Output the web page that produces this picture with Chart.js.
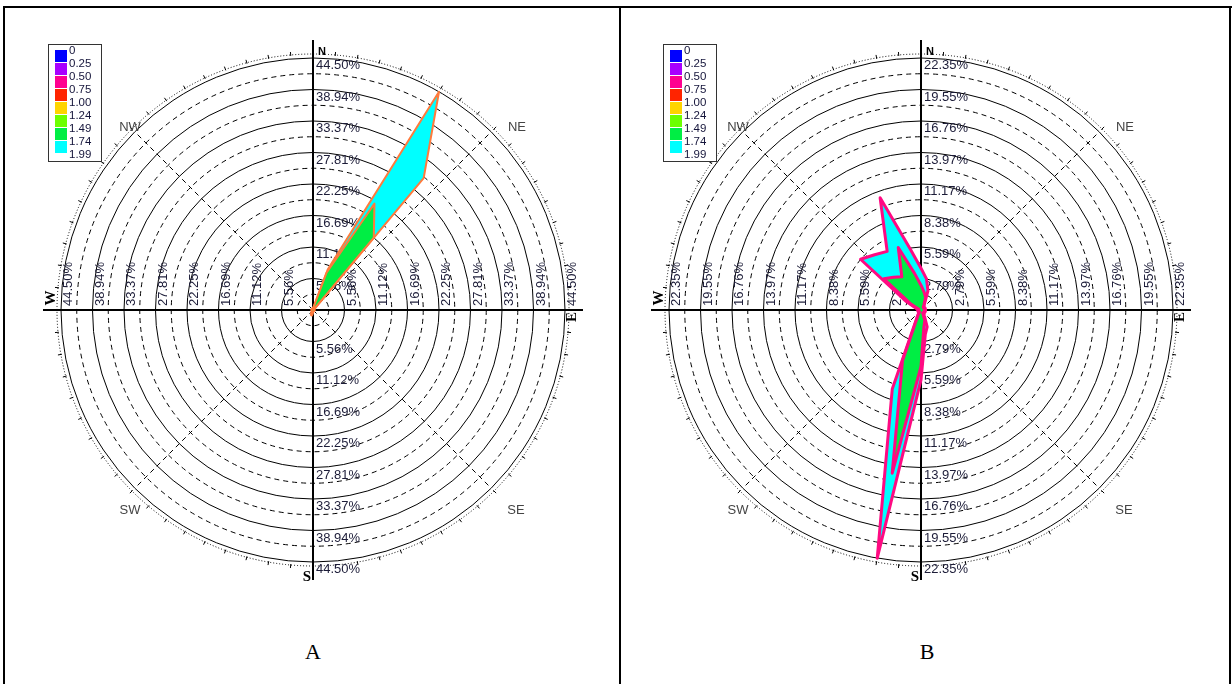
<!DOCTYPE html>
<html>
<head>
<meta charset="utf-8">
<script src="https://cdn.jsdelivr.net/npm/chart.js@4/dist/chart.umd.min.js"></script>
<style>
  body { margin: 0; background: #fff; width: 1232px; height: 684px; position: relative; overflow: hidden; font-family: "Liberation Serif", serif; }
  .frame { position: absolute; border-color: #000; border-style: solid; border-width: 0; }
  canvas { position: absolute; }
  .cap { position: absolute; font: 22px "Liberation Serif", serif; transform: translate(-50%, -50%); }
</style>
</head>
<body>
<div class="frame" style="left:3px;top:6px;width:1229px;height:0;border-top-width:2px"></div>
<div class="frame" style="left:3px;top:6px;width:0;height:678px;border-left-width:2px"></div>
<div class="frame" style="left:619px;top:6px;width:0;height:678px;border-left-width:2px"></div>
<div class="frame" style="left:1229px;top:6px;width:0;height:678px;border-left-width:2px"></div>
<canvas id="roseA" width="600" height="600" style="left:13px;top:10px"></canvas>
<canvas id="roseB" width="600" height="600" style="left:621px;top:10px"></canvas>
<div class="cap" style="left:313px;top:652px">A</div>
<div class="cap" style="left:927px;top:652px">B</div>
<script>
// wind directions, 10 degree sectors clockwise from north
const directions = ['0°','10°','20°','30°','40°','50°','60°','70°','80°','90°','100°','110°',
  '120°','130°','140°','150°','160°','170°','180°','190°','200°','210°','220°','230°',
  '240°','250°','260°','270°','280°','290°','300°','310°','320°','330°','340°','350°'];

// wind speed classes (m/s) and their colours
const speedBins = ['0','0.25','0.50','0.75','1.00','1.24','1.49','1.74','1.99'];
const binColors = ['#0000ff','#a800ff','#ff0090','#ff2400','#ffd400','#6cff00','#00ee44','#00ffff'];

// ring labels
const ringValuesA = [5.56, 11.12, 16.69, 22.25, 27.81, 33.37, 38.94, 44.50];
const ringLabelsA = ['5.56%','11.12%','16.69%','22.25%','27.81%','33.37%','38.94%','44.50%'];
const ringValuesB = [2.79, 5.59, 8.38, 11.17, 13.97, 16.76, 19.55, 22.35];
const ringLabelsB = ['2.79%','5.59%','8.38%','11.17%','13.97%','16.76%','19.55%','22.35%'];

// cumulative frequency (%) - A
const greenA = [0.3,0.4,7.0,21.7,16.7,0.3,0.2,0.2,0.2,0.2,0.2,0.2,
  0.2,0.2,0.2,0.2,0.2,0.2,0.3,0.8,0.8,0.6,0.3,0.2,
  0.2,0.2,0.2,0.2,0.2,0.2,0.2,0.2,0.2,0.2,0.2,0.2];
const cyanA = [0.4,0.5,7.6,44.50,30.4,0.4,0.3,0.3,0.3,0.3,0.3,0.3,
  0.3,0.3,0.3,0.3,0.3,0.3,0.4,1.0,1.0,0.7,0.4,0.3,
  0.3,0.3,0.3,0.3,0.3,0.3,0.3,0.3,0.3,0.3,0.3,0.4];

// cumulative frequency (%) - B
const greenB = [2.2,1.6,1.2,0.5,0.3,0.3,0.3,0.3,0.3,0.3,0.3,0.3,
  0.3,0.3,0.3,0.3,1.0,1.5,5.0,14.7,4.8,0.5,0.2,0.2,
  0.2,0.2,0.2,0.2,0.2,0.2,1.0,4.3,3.8,3.4,5.9,3.3];
const cyanB = [3.7,2.8,1.8,0.6,0.4,0.4,0.4,0.4,0.4,0.4,0.4,0.4,
  0.4,0.4,0.4,0.6,1.6,2.2,6.2,22.35,7.45,0.6,0.3,0.3,
  0.3,0.3,0.3,0.3,0.3,0.5,1.5,7.0,6.4,6.0,10.6,5.5];

const SANS = '"Liberation Sans", Arial, sans-serif';
const SERIF = '"Liberation Serif", "Times New Roman", serif';

// point on the rose at a compass bearing (degrees) and pixel distance
function at(scale, bearing, dist) {
  return scale.getPointPosition(0, dist, bearing * Math.PI / 180);
}

const rosePlugin = {
  id: 'rose',
  beforeDatasetsDraw(chart, args, opts) {
    const scale = chart.scales.r;
    const ctx = chart.ctx;
    const cx = scale.xCenter, cy = scale.yCenter, R = scale.drawingArea;
    ctx.save();
    ctx.strokeStyle = '#000';
    ctx.lineWidth = 1;

    // diagonal spokes
    ctx.setLineDash([5, 4]);
    [45, 135, 225, 315].forEach((b) => {
      const p = at(scale, b, R);
      ctx.beginPath(); ctx.moveTo(cx, cy); ctx.lineTo(p.x, p.y); ctx.stroke();
    });

    // dotted compass ring with small ticks
    ctx.setLineDash([1, 2]);
    ctx.beginPath(); ctx.arc(cx, cy, R + 4, 0, Math.PI * 2); ctx.stroke();
    ctx.setLineDash([]);
    for (let b = 0; b < 360; b += 5) {
      const p1 = at(scale, b, R + 3);
      const p2 = at(scale, b, R + 7);
      ctx.beginPath(); ctx.moveTo(p1.x, p1.y); ctx.lineTo(p2.x, p2.y); ctx.stroke();
    }

    // main N-S / E-W axes
    ctx.lineWidth = 2;
    [0, 90, 180, 270].forEach((b) => {
      const p = at(scale, b, R + 18);
      ctx.beginPath(); ctx.moveTo(cx, cy); ctx.lineTo(p.x, p.y); ctx.stroke();
    });

    // ring labels on the four axes
    ctx.font = '13px ' + SANS;
    ctx.fillStyle = '#1c1c38';
    ctx.textAlign = 'left';
    ctx.textBaseline = 'top';
    opts.ringValues.forEach((v, i) => {
      const d = scale.getDistanceFromCenterForValue(v);
      const txt = opts.ringLabels[i];
      ctx.fillText(txt, cx + 3, cy - d + 1);
      ctx.fillText(txt, cx + 3, cy + d + 1);
      [cx + d, cx - d].forEach((x) => {
        ctx.save();
        ctx.translate(x + 1, cy - 4);
        ctx.rotate(-Math.PI / 2);
        ctx.fillText(txt, 0, 0);
        ctx.restore();
      });
    });
    ctx.restore();
  },
  afterDatasetsDraw(chart, args, opts) {
    const scale = chart.scales.r;
    const ctx = chart.ctx;
    const cx = scale.xCenter, cy = scale.yCenter;
    ctx.save();

    // intercardinal labels
    ctx.font = '13px ' + SANS;
    ctx.fillStyle = '#444';
    ctx.textAlign = 'center';
    ctx.textBaseline = 'middle';
    ctx.fillText('NE', cx + 204, cy - 183);
    ctx.fillText('NW', cx - 183, cy - 183);
    ctx.fillText('SE', cx + 203, cy + 200);
    ctx.fillText('SW', cx - 183, cy + 200);

    // cardinal labels
    ctx.fillStyle = '#000';
    ctx.font = 'bold 11px ' + SANS;
    ctx.fillText('N', cx + 9, cy - 258);
    ctx.font = 'bold 15px ' + SERIF;
    ctx.fillText('S', cx - 6, cy + 267);
    [['E', 259, 7], ['W', -262, -12]].forEach(([t, dx, dy]) => {
      ctx.save();
      ctx.translate(cx + dx, cy + dy);
      ctx.rotate(-Math.PI / 2);
      ctx.fillText(t, 0, 0);
      ctx.restore();
    });

    // speed class colour legend
    const lx = opts.legendX, ly = opts.legendY;
    const sw = 13;
    ctx.fillStyle = '#fff';
    ctx.fillRect(lx, ly, 53, 117);
    ctx.strokeStyle = '#333';
    ctx.lineWidth = 1;
    ctx.strokeRect(lx + 0.5, ly + 0.5, 53, 117);
    binColors.forEach((c, i) => {
      ctx.fillStyle = c;
      ctx.fillRect(lx + 7, ly + 6 + i * sw, 12, sw - 1);
    });
    ctx.font = '11.5px ' + SANS;
    ctx.fillStyle = '#14143a';
    ctx.textAlign = 'left';
    ctx.textBaseline = 'middle';
    speedBins.forEach((t, i) => {
      ctx.fillText(t, lx + 21, ly + 7 + i * sw);
    });
    ctx.restore();
  }
};

function makeRose(id, green, cyan, maxVal, ringValues, ringLabels, outline, outlineWidth, legendX) {
  new Chart(document.getElementById(id), {
    type: 'radar',
    data: {
      labels: directions,
      datasets: [
        { label: speedBins[6] + ' - ' + speedBins[7], data: green, backgroundColor: binColors[6],
          borderColor: outline, borderWidth: outlineWidth, fill: true, pointRadius: 0 },
        { label: speedBins[7] + ' - ' + speedBins[8], data: cyan, backgroundColor: binColors[7],
          borderColor: outline, borderWidth: outlineWidth, fill: true, pointRadius: 0 }
      ]
    },
    options: {
      responsive: false,
      animation: false,
      devicePixelRatio: 1,
      layout: { padding: 48 },
      elements: { line: { tension: 0, borderJoinStyle: 'round' } },
      plugins: {
        legend: { display: false },
        tooltip: { enabled: false },
        rose: { ringValues: ringValues, ringLabels: ringLabels, legendX: legendX, legendY: 34 }
      },
      scales: {
        r: {
          min: 0,
          max: maxVal,
          afterBuildTicks: (scale) => {
            const t = [];
            for (let k = 0; k <= 16; k++) t.push({ value: maxVal * k / 16 });
            scale.ticks = t;
          },
          ticks: { display: false },
          pointLabels: { display: false },
          angleLines: { display: false },
          grid: { circular: true, color: '#000', lineWidth: 1 },
          border: { dash: (c) => (c.index % 2 ? [5, 4] : []) }
        }
      }
    },
    plugins: [rosePlugin]
  });
}

makeRose('roseA', greenA, cyanA, 44.50, ringValuesA, ringLabelsA, '#ff7a3c', 2, 35);
makeRose('roseB', greenB, cyanB, 22.35, ringValuesB, ringLabelsB, '#ff0a82', 3, 42);
</script>
</body>
</html>
